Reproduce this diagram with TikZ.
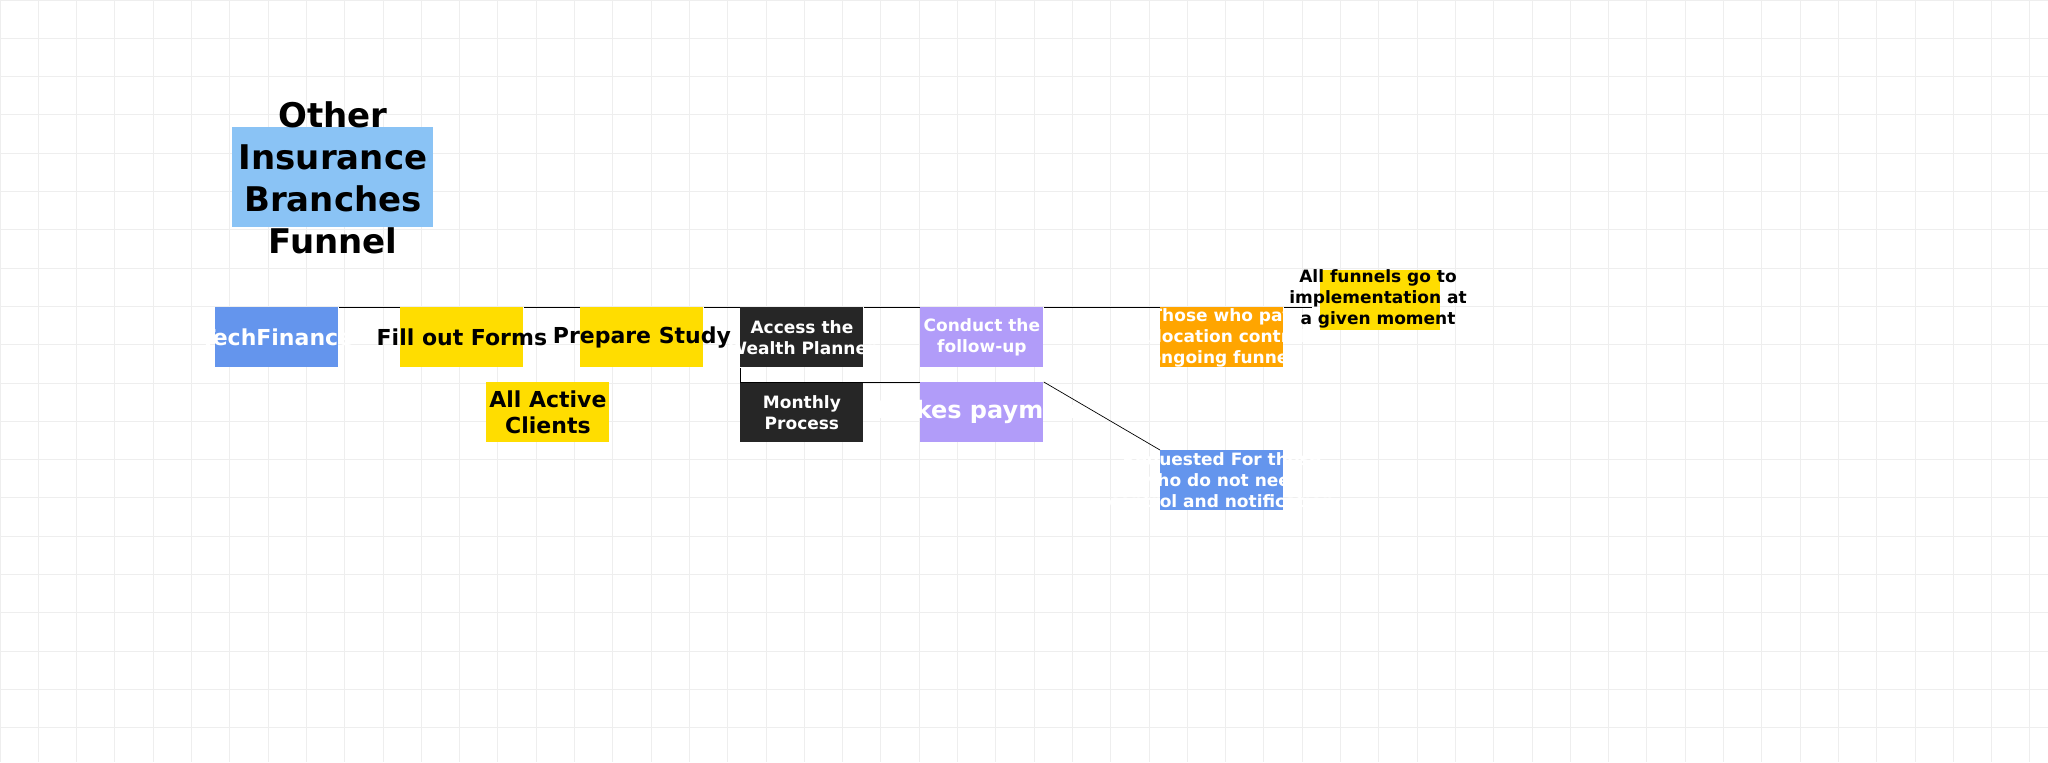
\documentclass[tikz,border=0pt]{standalone}
\usepackage{fontspec}
\setmainfont{DejaVu Sans}
\definecolor{gridc}{HTML}{EEEEEE}
\definecolor{lblue}{HTML}{8AC3F5}
\definecolor{cblue}{HTML}{6495ED}
\definecolor{cyel}{HTML}{FFDD00}
\definecolor{cdark}{HTML}{262626}
\definecolor{cpurp}{HTML}{B19CF9}
\definecolor{corange}{HTML}{FFA500}
\begin{document}
\begin{tikzpicture}[x=0.5pt,y=-0.5pt,
  box/.style={minimum width=61.5pt,minimum height=30pt,inner sep=0pt,anchor=north west},
  txt/.style={font=\bfseries,align=center,inner sep=0pt},
  wtxt/.style={txt,text=white},
  conn/.style={draw=black,line width=0.5pt}]
\fill[white] (0,0) rectangle (2048,762);
\useasboundingbox (0,0) rectangle (2048,762);
\foreach \i in {0,...,53} {\draw[gridc,line width=0.5pt] (\i*38.3,0) -- (\i*38.3,762);}
\foreach \i in {0,...,20} {\draw[gridc,line width=0.5pt] (0,\i*38.3) -- (2048,\i*38.3);}
% title
\node[fill=lblue,minimum width=100.5pt,minimum height=50pt,inner sep=0pt,anchor=north west] (tb) at (232,127) {};
\node[txt,font=\bfseries\fontsize{17}{21}\selectfont] (tt) at (333,178) {Other\\Insurance\\Branches\\Funnel};
% boxes
\node[box,fill=cblue] (tf) at (215,307) {};
\node[wtxt,font=\bfseries\fontsize{11}{13}\selectfont] (tft) at (tf) {TechFinance};
\node[box,fill=cyel] (ff) at (400,307) {};
\node[txt,font=\bfseries\fontsize{11}{13}\selectfont] (fft) at (ff) {Fill out Forms};
\node[box,fill=cyel] (ps) at (580,307) {};
\node[txt,font=\bfseries\fontsize{11}{13}\selectfont] (pst) at (ps) {Prepare Study};
\node[box,fill=cyel] (ac) at (486,382) {};
\node[txt,font=\bfseries\fontsize{11}{13}\selectfont] (act) at (ac) {All Active\\Clients};
\node[box,fill=cdark] (wp) at (740,307) {};
\node[wtxt,font=\bfseries\fontsize{8.5}{10.5}\selectfont] (wpt) at (wp) {Access the\\Wealth Planner};
\node[box,fill=cdark] (mp) at (740,382) {};
\node[wtxt,font=\bfseries\fontsize{8.5}{10.5}\selectfont] (mpt) at (mp) {Monthly\\Process};
\node[box,fill=cpurp] (fu) at (920,307) {};
\node[wtxt,font=\bfseries\fontsize{8.5}{10.5}\selectfont] (fut) at (fu) {Conduct the\\follow-up};
\node[box,fill=cpurp] (pay) at (920,382) {};
\node[wtxt,font=\bfseries\fontsize{12}{14}\selectfont] (payt) at (pay) {Makes payment};
\node[box,fill=corange] (or) at (1160,307) {};
\node[wtxt,font=\bfseries\fontsize{8.5}{10.5}\selectfont] (ort) at (or) {Those who pay\\Allocation control\\ongoing funnel};
\node[box,fill=cblue] (rq) at (1160,450) {};
\node[wtxt,font=\bfseries\fontsize{8.5}{10.5}\selectfont] (rqt) at (rq) {Requested For those\\who do not need\\control and notification};
\node[fill=cyel,minimum width=60pt,minimum height=30pt,inner sep=0pt,anchor=north west] (hl) at (1320,270) {};
\node[txt,font=\bfseries\fontsize{8.5}{10.5}\selectfont] (hlt) at (1378,299) {All funnels go to\\implementation at\\a given moment};
\coordinate (endc) at (1312,307);
% connectors
\draw[conn] (tf.north east) -- (ff.north west);
\draw[conn] (ff.north east) -- (ps.north west);
\draw[conn] (ps.north east) -- (wp.north west);
\draw[conn] (wp.north east) -- (fu.north west);
\draw[conn] (fu.north east) -- (or.north west);
\draw[conn] (or.north east) -- (endc);
\draw[conn] (wp.south west) -- (mp.north west) -- (pay.north west);
\draw[conn,line width=0.35pt] (pay.north east) -- (rq.north west);
\end{tikzpicture}
\end{document}
